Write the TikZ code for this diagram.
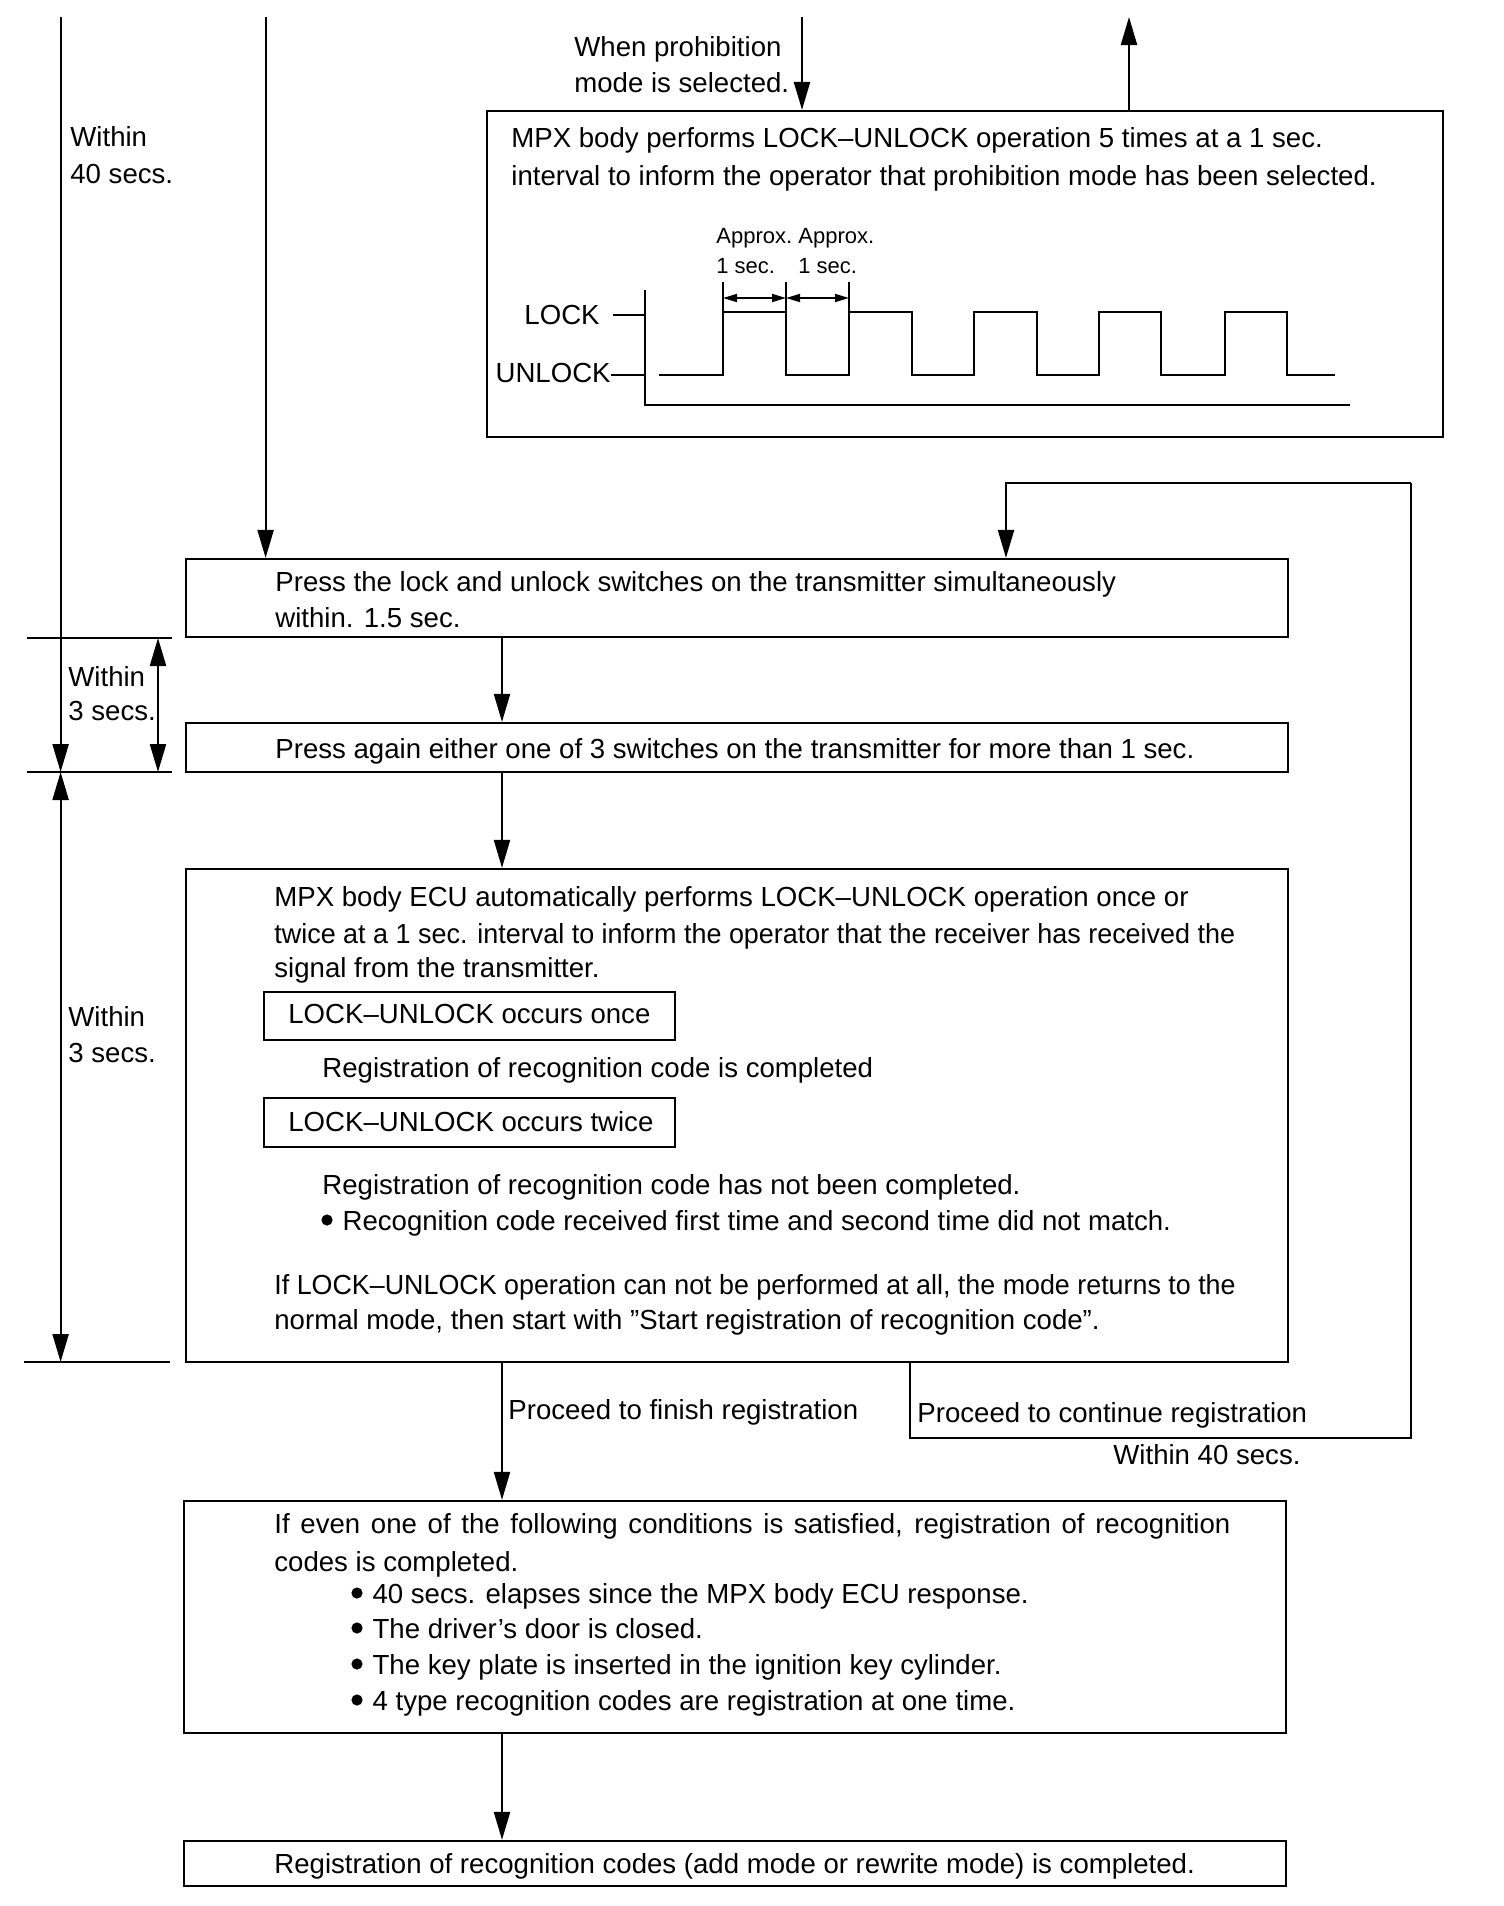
\documentclass[tikz,border=0pt]{standalone}
\usepackage{fontspec}
\setmainfont{Liberation Sans}
\usetikzlibrary{arrows.meta,fit}
\newcommand\msz{\fontsize{13.8pt}{17pt}\selectfont}
\newcommand\ssz{\fontsize{11pt}{13pt}\selectfont}
\newcommand\bul{\tikz[baseline=0pt]\fill (0pt,5pt) circle (2.8pt);\hspace{5pt}}
\begin{document}
\begin{tikzpicture}[x=0.5pt,y=-0.5pt,
 box/.style={draw,line width=1.1pt,inner sep=0pt},
 sbox/.style={draw,line width=1pt,inner sep=0pt},
 txt/.style={anchor=base west,inner sep=0pt,font=\msz},
 stxt/.style={anchor=base west,inner sep=0pt,font=\ssz},
 arr/.style={-{Triangle[length=14pt,width=8pt]},line width=1.1pt},
 darr/.style={{Triangle[length=14pt,width=8pt]}-{Triangle[length=14pt,width=8pt]},line width=1.1pt},
 dimarr/.style={{Triangle[length=7pt,width=4pt]}-{Triangle[length=7pt,width=4pt]},line width=0.9pt},
 ln/.style={line width=1.1pt},
 thinln/.style={line width=0.7pt}]
\useasboundingbox (0,0) rectangle (1504,1906);
\fill[white] (0,0) rectangle (1504,1906);

% boxes
\node[box,fit={(487,111) (1443,437)}] (tb) {};
\node[box,fit={(186,559) (1288,637)}] (b1) {};
\node[box,fit={(186,723) (1288,772)}] (b2) {};
\node[box,fit={(186,869) (1288,1362)}] (b3) {};
\node[sbox,fit={(264,992) (675,1040)}] (s1) {};
\node[sbox,fit={(264,1098) (675,1147)}] (s2) {};
\node[box,fit={(184,1501) (1286,1733)}] (b4) {};
\node[box,fit={(184,1841) (1286,1886)}] (b5) {};

% coordinates
\coordinate (pin) at (802,17);
\coordinate (pout) at (1129,17);
\coordinate (l2) at (265.6,17);
\coordinate (l1) at (60.6,17);
\coordinate (c) at (502,0);
\coordinate (t1) at (27,638);  \coordinate (t1e) at (172,638);
\coordinate (t2) at (27,772);  \coordinate (t2e) at (172,772);
\coordinate (t3) at (24,1362); \coordinate (t3e) at (170,1362);
\coordinate (dm) at (158,0);
\coordinate (lp1) at (910,1438);
\coordinate (lp2) at (1411,483);
\coordinate (lin) at (1006,0);

% top texts
\node[txt] (wp1) at (574,56) {When prohibition};
\node[txt] (wp2) at (574,92) {mode is selected.};
\node[txt] (w40a) at (70,146) {Within};
\node[txt] (w40b) at (70,183) {40 secs.};
\node[txt] (tt1) at (511,147) {MPX body performs LOCK–UNLOCK operation 5 times at a 1 sec.};
\node[txt] (tt2) at (511,185) {interval to inform the operator that prohibition mode has been selected.};

% waveform
\node[stxt] (ap1) at (716,243) {Approx.};
\node[stxt] (ap2) at (798,243) {Approx.};
\node[stxt] (se1) at (716,273) {1 sec.};
\node[stxt] (se2) at (798,273) {1 sec.};
\node[txt,anchor=base east] (lk) at (600,324) {LOCK};
\node[txt,anchor=base east] (ulk) at (611,382) {UNLOCK};
\draw[ln] (613,315) -- (645,315);
\draw[ln] (611,375) -- (645,375);
\draw[ln] (645,290) -- (645,405) -- (1350,405);
\draw[ln] (659,375) -- (723,375) -- (723,312) -- (786,312) -- (786,375) -- (849,375) -- (849,312) -- (912,312) -- (912,375) -- (974,375) -- (974,312) -- (1037,312) -- (1037,375) -- (1099,375) -- (1099,312) -- (1161,312) -- (1161,375) -- (1225,375) -- (1225,312) -- (1287,312) -- (1287,375) -- (1335,375);
\draw[ln] (723,282) -- (723,312);
\draw[ln] (786,282) -- (786,312);
\draw[ln] (849,282) -- (849,312);
\draw[dimarr] (723,298) -- (786,298);
\draw[dimarr] (786,298) -- (849,298);

% top connectors
\draw[arr] (pin) -- (tb.north -| pin);
\draw[arr] (tb.north -| pout) -- (pout);
\draw[arr] (l2) -- (b1.north -| l2);
\draw[arr] (l1) -- (l1 |- t2);
\draw[darr] (l1 |- t2) -- (l1 |- t3);
\draw[ln] (t1) -- (t1e);
\draw[ln] (t2) -- (t2e);
\draw[ln] (t3) -- (t3e);
\draw[darr] (dm |- t1) -- (dm |- t2);

% box 1 and 2
\node[txt] (b1a) at (275,591) {Press the lock and unlock switches on the transmitter simultaneously};
\node[txt] (b1b) at (275,627) {within. 1.5 sec.};
\node[txt] (b2a) at (275,758) {Press again either one of 3 switches on the transmitter for more than 1 sec.};
\node[txt] (w3a) at (68,686) {Within};
\node[txt] (w3b) at (68,720) {3 secs.};

% box 3
\node[txt] (b3a) at (274,906) {MPX body ECU automatically performs LOCK–UNLOCK operation once or};
\node[txt] (b3b) at (274,943) {\scalebox{0.976}[1]{twice at a 1 sec. interval to inform the operator that the receiver has received the}};
\node[txt] (b3c) at (274,977) {signal from the transmitter.};
\node[txt] (s1t) at (288,1023) {LOCK–UNLOCK occurs once};
\node[txt] (b3d) at (322,1077) {Registration of recognition code is completed};
\node[txt] (s2t) at (288,1131) {LOCK–UNLOCK occurs twice};
\node[txt] (b3e) at (322,1194) {Registration of recognition code has not been completed.};
\node[txt] (b3f) at (321,1230) {\bul Recognition code received first time and second time did not match.};
\node[txt] (b3g) at (274,1294) {\scalebox{0.973}[1]{If LOCK–UNLOCK operation can not be performed at all, the mode returns to the}};
\node[txt] (b3h) at (274,1329) {normal mode, then start with ”Start registration of recognition code”.};
\node[txt] (w3c) at (68,1026) {Within};
\node[txt] (w3d) at (68,1062) {3 secs.};

% flow arrows
\draw[arr] (b1.south -| c) -- (b2.north -| c);
\draw[arr] (b2.south -| c) -- (b3.north -| c);
\draw[arr] (b3.south -| c) -- (b4.north -| c);
\draw[arr] (b4.south -| c) -- (b5.north -| c);

% loop back
\draw[thinln] (b3.south -| lp1) -- (lp1) -- (lp1 -| lp2) -- (lp2);
\draw[arr] (lp2) -- (lp2 -| lin) -- (b1.north -| lin);
\node[txt] (pf) at (508,1419) {Proceed to finish registration};
\node[txt] (pc) at (917,1422) {Proceed to continue registration};
\node[txt] (w40c) at (1113,1464) {Within 40 secs.};

% box 4
\node[txt] (b4a) at (274,1533) {\makebox[478pt][s]{If even one of the following conditions is satisfied, registration of recognition}};
\node[txt] (b4b) at (274,1571) {codes is completed.};
\node[txt] (b4c) at (351,1603) {\bul 40 secs. elapses since the MPX body ECU response.};
\node[txt] (b4d) at (351,1638) {\bul The driver’s door is closed.};
\node[txt] (b4e) at (351,1674) {\bul The key plate is inserted in the ignition key cylinder.};
\node[txt] (b4f) at (351,1710) {\bul 4 type recognition codes are registration at one time.};

% box 5
\node[txt] (b5a) at (274,1873) {Registration of recognition codes (add mode or rewrite mode) is completed.};
\end{tikzpicture}
\end{document}
